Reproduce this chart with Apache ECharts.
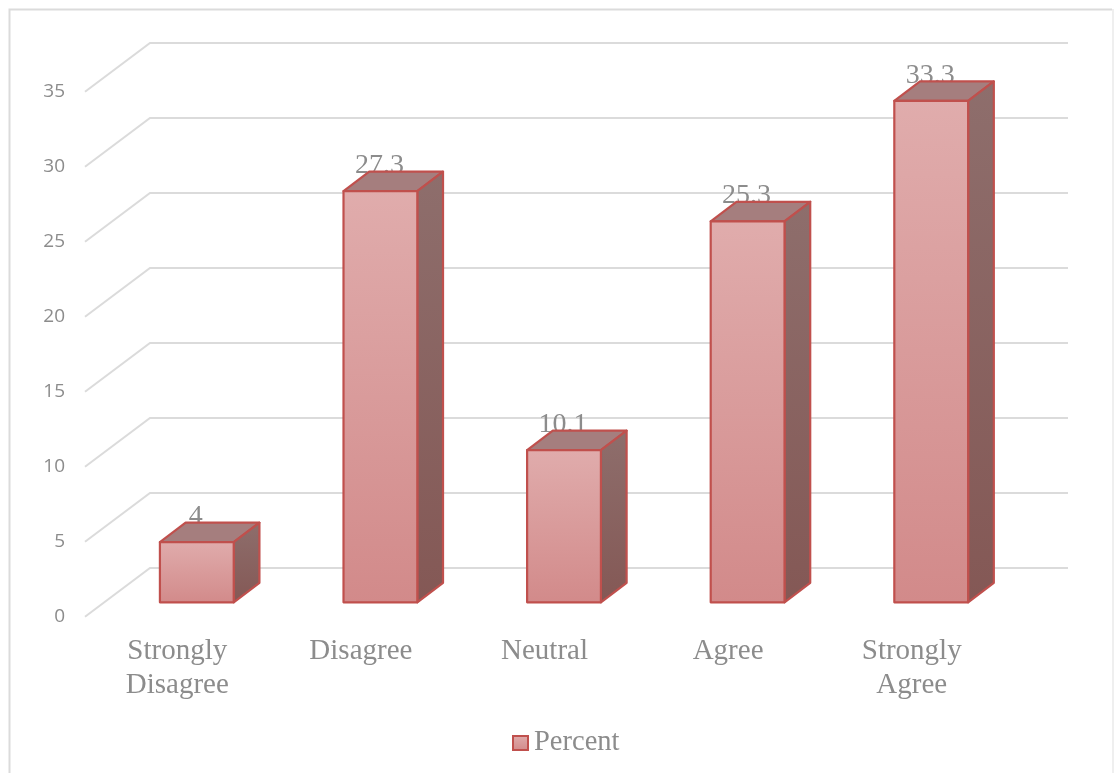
<!DOCTYPE html>
<html>
<head>
<meta charset="utf-8">
<style>
  html, body { margin: 0; padding: 0; background: #fff; overflow: hidden; }
  #chart { width: 1114px; height: 773px; }
</style>
<script src="https://cdn.jsdelivr.net/npm/echarts@6/dist/echarts.min.js"></script>
</head>
<body>
<div id="chart"></div>
<script>
const categories = ['Strongly\nDisagree', 'Disagree', 'Neutral', 'Agree', 'Strongly\nAgree'];
const percentValues = [4, 27.3, 10.1, 25.3, 33.3];
const valueTicks = [0, 5, 10, 15, 20, 25, 30, 35];

// Oblique projection: depth is measured in category bands (x) and value units (y).
const WALL_DEPTH = { band: 0.354, units: 3.25 };
const BAR_FRONT = { band: 0.109, units: 0.96 };
const BAR_DEPTH = { band: 0.14, units: 1.3 };
const BAR_WIDTH = 0.402;
// Bars stand nearer the viewer than the back wall, so their value scale is a touch larger.
const BAR_PERSPECTIVE = 1.004;

const GRID_COLOR = '#dbdbdb';
const TEXT_COLOR = '#8c8c8c';
const BAR_EDGE = '#c0504d';

const vGrad = (from, to) => new echarts.graphic.LinearGradient(0, 0, 0, 1, [
  { offset: 0, color: from },
  { offset: 1, color: to }
]);

// Each grid line runs along the floor-side diagonal and then across the back wall.
function renderGridLine(params, api) {
  const value = api.value(1);
  const cs = params.coordSys;
  const size = api.size([1, 1]);
  const y = api.coord([0, value])[1];
  const dx = WALL_DEPTH.band * size[0];
  const dy = WALL_DEPTH.units * size[1];
  return {
    type: 'polyline',
    shape: { points: [[cs.x, y], [cs.x + dx, y - dy], [cs.x + cs.width + dx, y - dy]] },
    style: { stroke: GRID_COLOR, lineWidth: 2, fill: null },
    silent: true
  };
}

// A bar is three faces plus its value label, which sits behind the top face.
function renderBar(params, api) {
  const cat = api.value(0);
  const value = api.value(1);
  const size = api.size([1, 1]);
  const band = size[0];
  const unit = size[1];
  const base = api.coord([cat, 0]);
  const shiftX = BAR_FRONT.band * band;
  const shiftY = BAR_FRONT.units * unit;
  const halfW = BAR_WIDTH * band / 2;
  const l = base[0] + shiftX - halfW;
  const r = base[0] + shiftX + halfW;
  const b = base[1] - shiftY;
  const t = b - value * unit * BAR_PERSPECTIVE;
  const dx = BAR_DEPTH.band * band;
  const dy = BAR_DEPTH.units * unit;
  const edge = { stroke: BAR_EDGE, lineWidth: 2.2, lineJoin: 'round' };
  return {
    type: 'group',
    children: [
      {
        type: 'text',
        style: {
          x: (l + r) / 2 - 1, y: t - dy + 8,
          text: String(value),
          fill: TEXT_COLOR,
          font: '28px "Liberation Serif"',
          textAlign: 'center', textVerticalAlign: 'bottom'
        }
      },
      {
        type: 'polygon',
        shape: { points: [[l, t], [r, t], [r + dx, t - dy], [l + dx, t - dy]] },
        style: Object.assign({ fill: '#a57e7e' }, edge)
      },
      {
        type: 'polygon',
        shape: { points: [[r, t], [r + dx, t - dy], [r + dx, b - dy], [r, b]] },
        style: Object.assign({ fill: vGrad('#8e6e6c', '#845855') }, edge)
      },
      {
        type: 'polygon',
        shape: { points: [[l, t], [r, t], [r, b], [l, b]] },
        style: Object.assign({ fill: vGrad('#e0acac', '#d28a8a') }, edge)
      }
    ]
  };
}

const chart = echarts.init(document.getElementById('chart'), null, { renderer: 'canvas' });
chart.setOption({
  animation: false,
  backgroundColor: '#fff',
  // Chart-area frame: left and top edges are solid, the right edge is faint.
  graphic: [
    {
      type: 'polyline',
      silent: true,
      shape: { points: [[9.5, 773], [9.5, 9.5], [1112, 9.5]] },
      style: { fill: null, stroke: GRID_COLOR, lineWidth: 2 }
    },
    {
      type: 'line',
      silent: true,
      shape: { x1: 1113, y1: 9, x2: 1113, y2: 773 },
      style: { stroke: '#efefef', lineWidth: 2 }
    }
  ],
  grid: { left: 85, top: 91.7, width: 918, height: 525, containLabel: false },
  legend: {
    data: ['Percent'],
    left: 507,
    top: 723.5,
    icon: 'rect',
    itemWidth: 15,
    itemHeight: 14,
    textStyle: {
      color: TEXT_COLOR,
      fontFamily: 'Liberation Serif',
      fontSize: 28.5,
      padding: [0, 0, 0, 1]
    }
  },
  xAxis: {
    type: 'category',
    data: categories,
    axisLine: { show: false },
    axisTick: { show: false },
    axisLabel: {
      color: TEXT_COLOR,
      fontFamily: 'Liberation Serif',
      fontSize: 29,
      lineHeight: 34,
      margin: 18,
      padding: [0, 0, 0, 1],
      interval: 0
    }
  },
  yAxis: {
    type: 'value',
    min: 0,
    max: 35,
    interval: 5,
    axisLine: { show: false },
    axisTick: { show: false },
    splitLine: { show: false },
    axisLabel: {
      color: TEXT_COLOR,
      fontFamily: 'Open Sans',
      fontSize: 19,
      margin: 20,
      customValues: valueTicks
    }
  },
  series: [
    {
      type: 'custom',
      name: 'Gridlines',
      renderItem: renderGridLine,
      data: valueTicks.map(v => [0, v]),
      encode: { x: 0, y: 1 },
      silent: true,
      z: 1
    },
    {
      type: 'custom',
      name: 'Percent',
      renderItem: renderBar,
      data: percentValues.map((v, i) => [i, v]),
      encode: { x: 0, y: 1 },
      itemStyle: {
        color: vGrad('#e0acac', '#d28a8a'),
        borderColor: BAR_EDGE,
        borderWidth: 2
      },
      z: 2
    }
  ]
});
</script>
</body>
</html>
